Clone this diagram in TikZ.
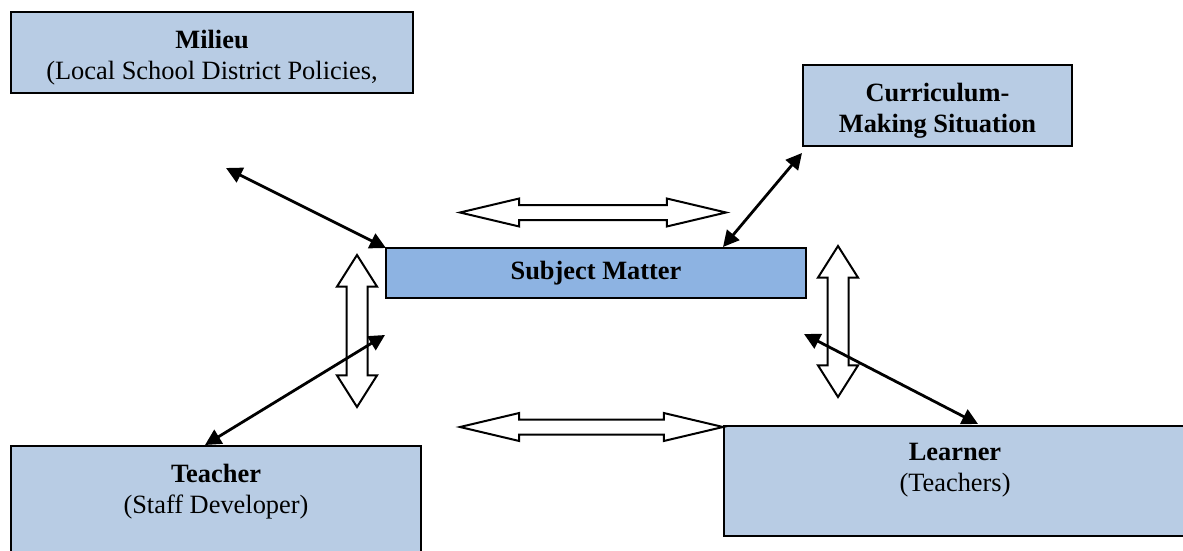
\documentclass[tikz,border=0pt]{standalone}
\usepackage{fontspec}
\setmainfont{Liberation Serif}
\usetikzlibrary{arrows.meta,shapes.arrows}

\definecolor{boxblue}{HTML}{B8CCE4}
\definecolor{subjblue}{HTML}{8DB3E2}

\tikzset{
  box/.style={draw, line width=1pt, fill=boxblue, inner sep=0pt, outer sep=0pt, anchor=north west},
  boxtext/.style={align=center, font=\fontsize{13.2}{15.5}\selectfont, inner sep=0pt},
  link/.style={{Triangle[length=8pt,width=8pt]}-{Triangle[length=8pt,width=8pt]}, line width=1.4pt},
  hollow/.style={double arrow, draw, fill=white, line width=1pt, inner xsep=0pt, minimum width=0pt,
    inner ysep=3.25pt, double arrow head extend=3.25pt, double arrow tip angle=26.6},
  hollow up/.style={hollow, rotate=90, inner ysep=4.75pt, double arrow head extend=4.75pt, double arrow tip angle=64.7}
}

\begin{document}
\begin{tikzpicture}[x=0.5pt,y=-0.5pt]
        \useasboundingbox (0,0) rectangle (1183,551);
        \clip (0,0) rectangle (1183,551);
        % boxes
        \node [box, minimum width=201pt, minimum height=40.5pt] (milieu) at (11,12) {};
        \node [box, minimum width=134.5pt, minimum height=40.5pt] (curric) at (803,65) {};
        \node [box, fill=subjblue, minimum width=210pt, minimum height=25pt, boxtext] (subject) at (386,248) {\bfseries Subject Matter};
        \node [box, minimum width=205pt, minimum height=60pt] (teacher) at (11,446) {};
        \node [box, minimum width=250pt, minimum height=55pt] (learner) at (724,426) {};
        \node [boxtext] (milieu text) at (212,58) {\bfseries Milieu\\(Local School District Policies,};
        \node [boxtext] (curric text) at (937.5,111) {\bfseries Curriculum-\\\bfseries Making Situation};
        \node [boxtext] (teacher text) at (216,491.5) {\bfseries Teacher\\(Staff Developer)};
        \node [boxtext] (learner text) at (955,470) {\bfseries Learner\\(Teachers)};
        % hollow arrows
        \node [hollow, minimum height=133pt] (top flow) at (593,212.5) {};
        \node [hollow, minimum height=131.5pt] (bottom flow) at (591.5,427) {};
        \node [hollow up, minimum height=76pt] (left flow) at (357,331) {};
        \node [hollow up, minimum height=75.5pt] (right flow) at (838,321.5) {};
        % links
        \coordinate (milieu end) at (226,168);
        \coordinate (curric end) at (802,153);
        \coordinate (subject top) at (723,247);
        \coordinate (teacher start) at (385,335);
        \coordinate (teacher end) at (205,445);
        \coordinate (learner start) at (804,334);
        \coordinate (learner end) at (978,424);
        \draw [link] (milieu end) -- (subject.north west);
        \draw [link] (curric end) -- (subject top);
        \draw [link] (teacher start) -- (teacher end);
        \draw [link] (learner start) -- (learner end);
\end{tikzpicture}
\end{document}
